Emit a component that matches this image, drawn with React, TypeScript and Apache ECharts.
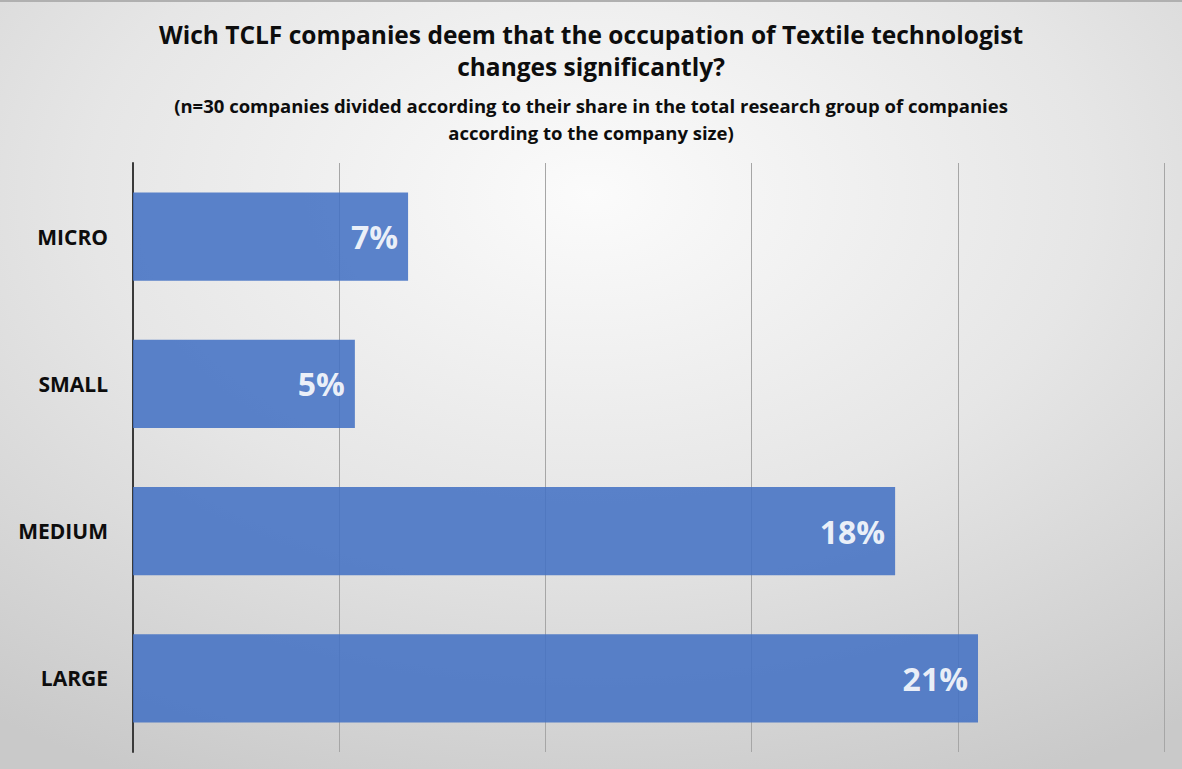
import React, { useEffect, useRef } from "react";
import * as echarts from "echarts";

const categories = ["MICRO", "SMALL", "MEDIUM", "LARGE"];
const values = [6.67, 5.38, 18.48, 20.49];
const valueLabels = ["7%", "5%", "18%", "21%"];
const axisMax = 25;
const axisInterval = 5;

const titleLines = [
  "Wich TCLF companies deem that the occupation of Textile technologist",
  "changes significantly?",
];
const subtitleLines = [
  "(n=30 companies divided according to their share in the total research group of companies",
  "according to the company size)",
];

export default function App() {
  const ref = useRef<HTMLDivElement>(null);
  useEffect(() => {
    if (!ref.current) return;
    const chart = echarts.init(ref.current, undefined, { renderer: "svg" });
    const titleStyle = {
      fontFamily: "Open Sans",
      fontWeight: "bold",
      fontSize: 24.5,
      fill: "#0d0d0d",
      textAlign: "center",
      textVerticalAlign: "middle",
    };
    const subStyle = {
      fontFamily: "Open Sans",
      fontWeight: "bold",
      fontSize: 18.5,
      fill: "#0d0d0d",
      textAlign: "center",
      textVerticalAlign: "middle",
    };
    chart.setOption({
      animation: false,
      backgroundColor: new echarts.graphic.RadialGradient(0.5, 0.25, 0.85, [
        { offset: 0, color: "#fbfbfb" },
        { offset: 0.5, color: "#e6e6e6" },
        { offset: 1, color: "#c9c9c9" },
      ]),
      graphic: [
        { type: "text", x: 591, y: 32, style: { ...titleStyle, text: titleLines[0] } },
        { type: "text", x: 591, y: 64, style: { ...titleStyle, text: titleLines[1] } },
        { type: "text", x: 591, y: 103, style: { ...subStyle, text: subtitleLines[0] } },
        { type: "text", x: 591, y: 130, style: { ...subStyle, text: subtitleLines[1] } },
      ],
      grid: { left: 133, right: 18, top: 161, bottom: 17, containLabel: false },
      xAxis: {
        type: "value",
        min: 0,
        max: axisMax,
        interval: axisInterval,
        axisLabel: { show: false },
        axisLine: { show: false },
        axisTick: { show: false },
        splitLine: { show: true, lineStyle: { color: "#a6a6a6", width: 1 } },
      },
      yAxis: {
        type: "category",
        data: categories,
        inverse: true,
        axisLine: { show: true, lineStyle: { color: "#3a3a3a", width: 2 } },
        axisTick: { show: false },
        axisLabel: {
          margin: 25,
          fontFamily: "Open Sans",
          fontWeight: "bold",
          fontSize: 21,
          color: "#0d0d0d",
        },
      },
      series: [
        {
          type: "bar",
          data: values,
          barCategoryGap: "40%",
          itemStyle: { color: "#4472C4", opacity: 0.88 },
          label: {
            show: true,
            position: "insideRight",
            distance: 10,
            formatter: (p: any) => valueLabels[p.dataIndex],
            fontFamily: "Open Sans",
            fontWeight: "bold",
            fontSize: 32,
            color: "#ffffff",
          },
        },
      ],
    });
    return () => chart.dispose();
  }, []);
  return (
    <div
      ref={ref}
      style={{
        position: "absolute",
        left: 0,
        top: 0,
        width: 1182,
        height: 769,
        boxSizing: "border-box",
        borderTop: "2px solid #b0b0b0",
      }}
    />
  );
}
